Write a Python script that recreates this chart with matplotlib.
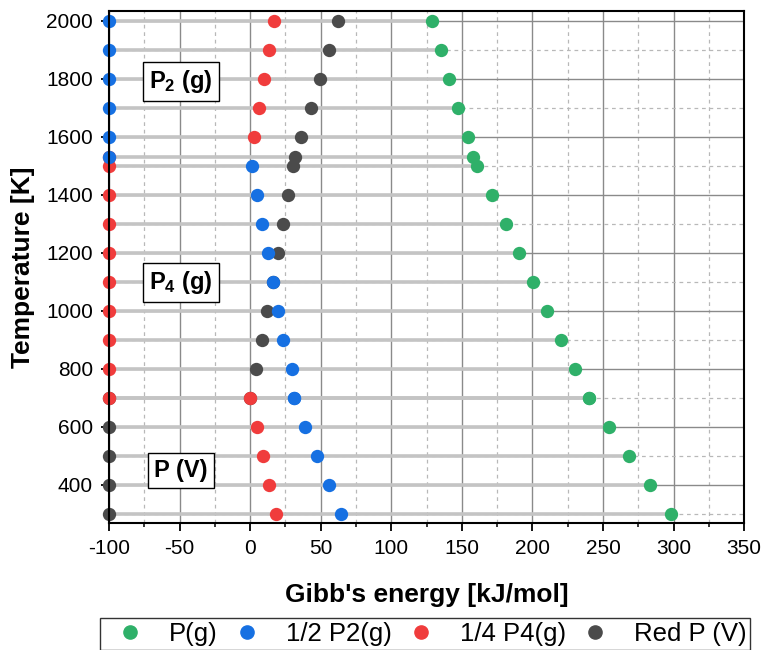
import numpy as np
import matplotlib
matplotlib.use("Agg")
import matplotlib.pyplot as plt
from matplotlib.lines import Line2D
from matplotlib.ticker import MultipleLocator

plt.rcParams['font.family'] = ['Liberation Sans', 'DejaVu Sans']
plt.rcParams['mathtext.default'] = 'regular'
plt.rcParams['axes.unicode_minus'] = False

# Temperatures (700 K appears twice: phase transition row)
temps = [2000, 1900, 1800, 1700, 1600, 1530, 1500, 1400, 1300, 1200,
         1100, 1000, 900, 800, 700, 700, 600, 500, 400, 300]

# Gibb's energy [kJ/mol] per species (most stable species shown at -100)
p_gas = [129, 135, 141, 147.5, 154, 158, 161, 171, 181, 190.5,
         200.5, 210, 220, 230, 240, 240, 254, 268.5, 283, 298]
half_p2 = [-100, -100, -100, -100, -100, -100, 1.4, 5, 8.7, 12.3,
           16, 19.6, 23.1, 29.9, 31, 31, 39, 47.4, 55.6, 64.4]
quarter_p4 = [16.7, 13.4, 9.7, 6.1, 2.6, -100, -100, -100, -100, -100,
              -100, -100, -100, -100, -100, 0.2, 4.5, 9, 13.7, 18.2]
red_p = [62.5, 56, 49.5, 42.9, 36, 31.6, 30.4, 27, 23.6, 20,
         16, 11.8, 8.2, 4.2, 0.2, -100, -100, -100, -100, -100]

labels = ['P(g)', '1/2 P2(g)', '1/4 P4(g)', 'Red P (V)']
colors = ['#2fb069', '#1670e2', '#f03c3c', '#4b4b4b']

fig = plt.figure(figsize=(7.64, 6.5), dpi=100)
ax = fig.add_axes([0.1427, 0.195, 0.974 - 0.1427, 0.983 - 0.195])

ax.set_xlim(-100, 350)
ax.set_ylim(267, 2033)
ax.xaxis.set_major_locator(MultipleLocator(50))
ax.xaxis.set_minor_locator(MultipleLocator(25))
ax.yaxis.set_major_locator(MultipleLocator(200))
ax.yaxis.set_minor_locator(MultipleLocator(100))
ax.set_yticks(np.arange(400, 2001, 200))

ax.grid(which='major', color='#8a8a8a', lw=1.0, zorder=0)
ax.grid(which='minor', color='#b8b8b8', lw=0.9, ls=(0, (3, 3)), zorder=0)
ax.set_axisbelow(True)

# horizontal stems from -100 to the P(g) value
ax.hlines(temps, -100, p_gas, color='#c4c4c4', lw=2.6, zorder=1)

ms = 92
ax.scatter(p_gas, temps, s=ms, color=colors[0], zorder=2.0, clip_on=False, lw=0)
ax.scatter(red_p, temps, s=ms, color=colors[3], zorder=2.1, clip_on=False, lw=0)
ax.scatter(quarter_p4, temps, s=ms, color=colors[2], zorder=2.2, clip_on=False, lw=0)
ax.scatter(half_p2, temps, s=ms, color=colors[1], zorder=2.3, clip_on=False, lw=0)

for sp in ax.spines.values():
    sp.set_linewidth(1.5)
    sp.set_zorder(3)

ax.tick_params(which='major', direction='out', length=6, width=1.3, labelsize=15)
ax.tick_params(which='minor', direction='out', length=3, width=1.1)
ax.tick_params(axis='x', which='major', pad=5)
ax.tick_params(axis='y', which='major', pad=5.5)
ax.tick_params(axis='y', which='minor', length=0)

ax.set_xlabel("Gibb's energy [kJ/mol]", fontsize=19, fontweight='bold', labelpad=18)
ax.set_ylabel('Temperature [K]', fontsize=19, fontweight='bold', labelpad=8)

box = dict(boxstyle='square,pad=0.25', fc='white', ec='black', lw=1.0)
ax.text(-49, 1791, 'P$_2$ (g)', fontsize=17, fontweight='bold', ha='center', va='center', bbox=box, zorder=4)
ax.text(-49, 1098, 'P$_4$ (g)', fontsize=17, fontweight='bold', ha='center', va='center', bbox=box, zorder=4)
ax.text(-49, 450, 'P (V)', fontsize=17, fontweight='bold', ha='center', va='center', bbox=box, zorder=4)

handles = [Line2D([], [], ls='none', marker='o', ms=9.5, color=c, mec=c) for c in colors]
leg = fig.legend(handles, labels, ncol=4, loc='upper left',
                 bbox_to_anchor=(100 / 764, 1 - 618 / 650), fontsize=18.5,
                 frameon=True, fancybox=False, edgecolor='black',
                 handlelength=2.03, handletextpad=0.5, columnspacing=0.12,
                 borderpad=0.15, borderaxespad=0)
leg.get_frame().set_linewidth(1.0)

fig.savefig('out.png', dpi=100)
